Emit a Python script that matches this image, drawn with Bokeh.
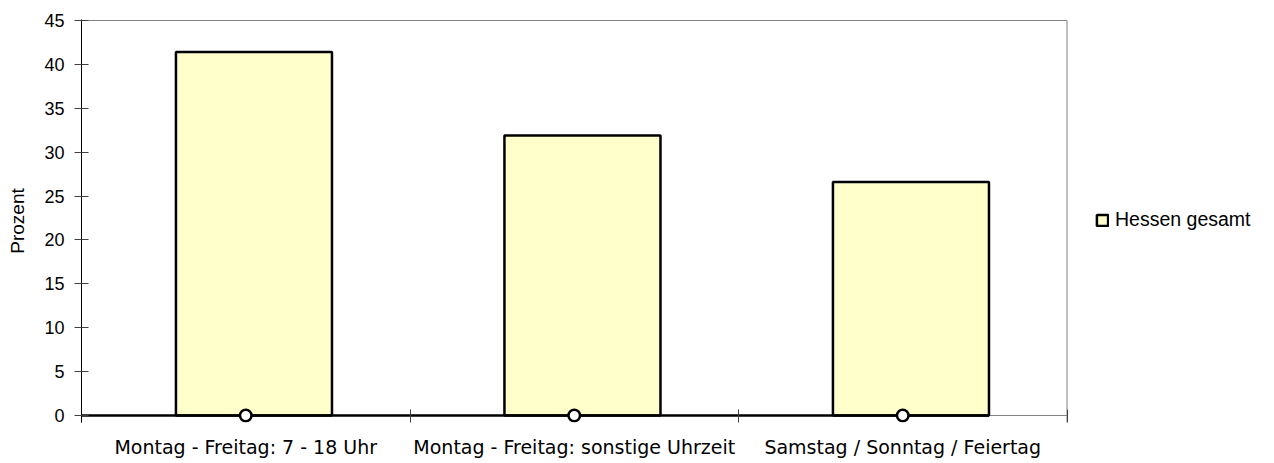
from bokeh.plotting import figure
from bokeh.models import (ColumnDataSource, FixedTicker, Range1d, Legend,
                          LegendItem)
from bokeh.embed import file_html
from bokeh.resources import INLINE

categories = ["Montag - Freitag: 7 - 18 Uhr",
              "Montag - Freitag: sonstige Uhrzeit",
              "Samstag / Sonntag / Feiertag"]
values = [41.4, 31.9, 26.6]
line_values = [0, 0, 0]
series_name = "Hessen gesamt"
y_ticks = [0, 5, 10, 15, 20, 25, 30, 35, 40, 45]

n = len(categories)
centers = [i + 0.5 for i in range(n)]
bar_offset = 0.025
bar_width = 0.475
bar_x = [c + bar_offset for c in centers]

# layout (pixels)
W, H = 1266, 463
left_px, top_px, bottom_px = 81, 19, 41
cat_px = 328.5                       # width of one category slot
frame_w = W - left_px
x_end = frame_w / cat_px             # the frame continues right of the plot area to hold the legend
y_lo, y_hi = -0.8, y_ticks[-1] + 0.11

src = ColumnDataSource(dict(x=bar_x, top=values))
lsrc = ColumnDataSource(dict(x=centers, y=line_values))

p = figure(width=W, height=H, output_backend="svg", toolbar_location=None,
           x_range=Range1d(0, x_end), y_range=Range1d(y_lo, y_hi),
           min_border_left=left_px, min_border_right=0, min_border_top=top_px,
           min_border_bottom=bottom_px)
p.background_fill_color = "white"
p.border_fill_color = "white"
p.outline_line_color = None
p.xgrid.visible = False
p.ygrid.visible = False

# plot-area borders (top, right) and the grey category axis line at zero
p.line(x=[0, n], y=[y_ticks[-1], y_ticks[-1]], line_color="#808080", line_width=1)
p.line(x=[n, n], y=[y_lo, y_ticks[-1]], line_color="#808080", line_width=1)
p.line(x=[0, n], y=[0, 0], line_color="#808080", line_width=1)

bars = p.vbar(x="x", top="top", width=bar_width, source=src,
              fill_color="#FFFFCC", line_color="black", line_width=2.5)

# thick zero line from the axis to the last bar's right edge
p.line(x=[0, bar_x[-1] + bar_width / 2], y=[line_values[0], line_values[-1]],
       line_color="black", line_width=2.5)
p.scatter(x="x", y="y", source=lsrc, size=11.5, marker="circle",
          fill_color="white", line_color="black", line_width=2.5)

# x axis
xa = p.xaxis[0]
xa.ticker = FixedTicker(ticks=centers, minor_ticks=list(range(n + 1)))
xa.major_label_overrides = {c: cat for c, cat in zip(centers, categories)}
xa.major_tick_in = 0
xa.major_tick_out = 0
xa.minor_tick_in = 13
xa.minor_tick_out = 0
xa.minor_tick_line_color = "#404040"
xa.axis_line_color = None
xa.major_label_text_font = "DejaVu Sans"
xa.major_label_text_font_size = "19px"
xa.major_label_text_color = "black"
xa.major_label_standoff = 13

# y axis
ya = p.yaxis[0]
ya.ticker = FixedTicker(ticks=y_ticks)
ya.minor_tick_line_color = None
ya.major_tick_in = 7
ya.major_tick_out = 7
ya.major_tick_line_color = "#404040"
ya.axis_line_color = "black"
ya.major_label_text_font = "Liberation Sans"
ya.major_label_text_font_size = "18px"
ya.major_label_text_color = "black"
ya.major_label_standoff = 10
ya.axis_label = "Prozent"
ya.axis_label_text_font = "Liberation Sans"
ya.axis_label_text_font_size = "19px"
ya.axis_label_text_font_style = "normal"
ya.axis_label_text_color = "black"
ya.axis_label_standoff = 13

legend = Legend(items=[LegendItem(label=series_name, renderers=[bars])],
                location=(1014, 191), orientation="vertical",
                border_line_color=None, background_fill_alpha=0,
                padding=0, margin=0, spacing=0,
                glyph_width=14, glyph_height=14, label_standoff=6,
                label_text_font="Liberation Sans", label_text_font_size="19.5px",
                label_text_color="black")
p.add_layout(legend, "center")

open("out.html", "w").write(file_html(p, INLINE))
